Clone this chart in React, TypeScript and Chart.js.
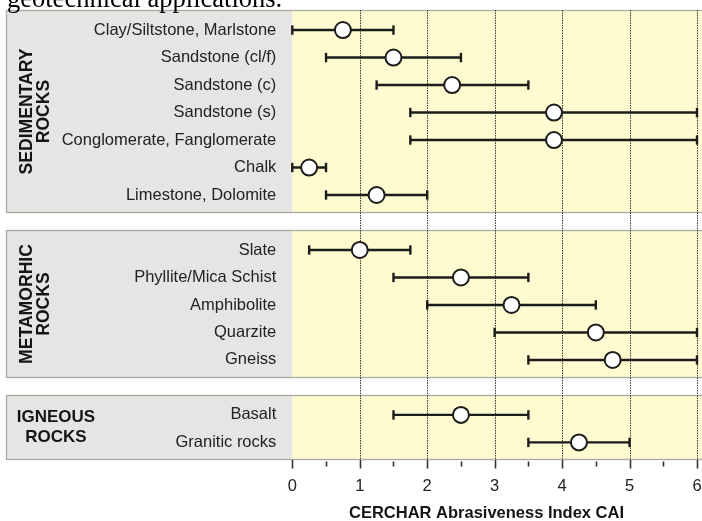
import React, { useEffect, useRef } from 'react';
import { Chart, registerables } from 'chart.js';

Chart.register(...registerables);

// ---- data ----
const rockTypes = [
  'Clay/Siltstone, Marlstone',
  'Sandstone (cl/f)',
  'Sandstone (c)',
  'Sandstone (s)',
  'Conglomerate, Fanglomerate',
  'Chalk',
  'Limestone, Dolomite',
  'Slate',
  'Phyllite/Mica Schist',
  'Amphibolite',
  'Quarzite',
  'Gneiss',
  'Basalt',
  'Granitic rocks',
];
const rowPositions = [0, 1, 2, 3, 4, 5, 6, 8, 9, 10, 11, 12, 14, 15];
const caiMin = [0, 0.5, 1.25, 1.75, 1.75, 0, 0.5, 0.25, 1.5, 2.0, 3.0, 3.5, 1.5, 3.5];
const caiMean = [0.75, 1.5, 2.37, 3.88, 3.88, 0.25, 1.25, 1.0, 2.5, 3.25, 4.5, 4.75, 2.5, 4.25];
const caiMax = [1.5, 2.5, 3.5, 6, 6, 0.5, 2.0, 1.75, 3.5, 4.5, 6, 6, 3.5, 5.0];

const groupNames = [
  ['SEDIMENTARY', 'ROCKS'],
  ['METAMORHIC', 'ROCKS'],
  ['IGNEOUS', 'ROCKS'],
];
const groupFirstRow = [0, 8, 14];
const groupLastRow = [6, 12, 15];
const groupRotated = [true, true, false];

const xTickValues = [0, 1, 2, 3, 4, 5, 6];
const xMinorTicks = [0.5, 1.5, 2.5, 3.5, 4.5, 5.5];
const xTitle = 'CERCHAR Abrasiveness Index CAI';
const pageText = 'geotechnical applications.';

const SANS = '"Liberation Sans", Arial, sans-serif';
const INK = '#1c1c1c';

const zeroPadding = (s: any) => {
  s.paddingTop = 0;
  s.paddingBottom = 0;
  s.paddingLeft = 0;
  s.paddingRight = 0;
};

const decorPlugin = {
  id: 'decor',
  beforeDraw(chart: any) {
    const { ctx, scales } = chart;
    const x = scales.x;
    const y = scales.y;
    const panelLeft = 6;
    const right = chart.width;
    const x0 = x.getPixelForValue(0);
    ctx.save();
    ctx.fillStyle = '#ffffff';
    ctx.fillRect(0, 0, chart.width, chart.height);
    groupFirstRow.forEach((first, g) => {
      const top = Math.round(y.getPixelForValue(first - 0.72));
      const bottom = Math.round(y.getPixelForValue(groupLastRow[g] + 0.65));
      ctx.fillStyle = '#e6e5e3';
      ctx.fillRect(panelLeft, top, x0 - panelLeft, bottom - top);
      ctx.fillStyle = '#fffbd0';
      ctx.fillRect(x0, top, right - x0, bottom - top);
      ctx.strokeStyle = '#a9a9a2';
      ctx.lineWidth = 1.3;
      ctx.strokeRect(panelLeft + 0.5, top + 0.5, right - panelLeft + 4, bottom - top - 1);

      // group label
      ctx.fillStyle = '#151515';
      ctx.textAlign = 'center';
      ctx.textBaseline = 'middle';
      const cy = (top + bottom) / 2;
      const lines = groupNames[g];
      if (groupRotated[g]) {
        ctx.font = `bold 17.6px ${SANS}`;
        ctx.save();
        ctx.translate(35.5, cy);
        ctx.rotate(-Math.PI / 2);
        lines.forEach((t, k) => ctx.fillText(t, 0, (k - (lines.length - 1) / 2) * 16.5));
        ctx.restore();
      } else {
        ctx.font = `bold 17px ${SANS}`;
        lines.forEach((t, k) => ctx.fillText(t, 56, cy + (k - (lines.length - 1) / 2) * 20));
      }
    });
    ctx.restore();
  },
  beforeDatasetsDraw(chart: any) {
    const { ctx, chartArea, scales } = chart;
    const x = scales.x;
    ctx.save();
    // dotted grid lines
    ctx.strokeStyle = '#3a3a3a';
    ctx.lineWidth = 1;
    ctx.setLineDash([1.5, 1]);
    xTickValues.forEach((v) => {
      if (v === 0) return;
      const px = Math.round(x.getPixelForValue(v)) + 0.5;
      ctx.beginPath();
      ctx.moveTo(px, chartArea.top);
      ctx.lineTo(px, chartArea.bottom);
      ctx.stroke();
    });
    ctx.setLineDash([]);
    // tick marks
    ctx.strokeStyle = '#333';
    ctx.lineWidth = 1.6;
    xTickValues.forEach((v) => {
      const px = Math.round(x.getPixelForValue(v)) + 0.5;
      ctx.beginPath();
      ctx.moveTo(px, chartArea.bottom);
      ctx.lineTo(px, chartArea.bottom + 8.5);
      ctx.stroke();
    });
    xMinorTicks.forEach((v) => {
      const px = Math.round(x.getPixelForValue(v)) + 0.5;
      ctx.beginPath();
      ctx.moveTo(px, chartArea.bottom + 1.5);
      ctx.lineTo(px, chartArea.bottom + 6.5);
      ctx.stroke();
    });
    ctx.restore();
  },
  afterDraw(chart: any) {
    const { ctx } = chart;
    ctx.save();
    ctx.fillStyle = '#151515';
    ctx.font = `bold 16.5px ${SANS}`;
    ctx.textAlign = 'center';
    ctx.textBaseline = 'middle';
    ctx.fillText(xTitle, 486.5, 513);
    ctx.fillStyle = '#000';
    ctx.font = '26.5px "Liberation Serif", "Times New Roman", serif';
    ctx.textAlign = 'left';
    ctx.textBaseline = 'alphabetic';
    ctx.fillText(pageText, 7, 6.5);
    ctx.restore();
  },
};

export default function App() {
  const ref = useRef<HTMLCanvasElement>(null);
  useEffect(() => {
    document.body.style.margin = '0';
    const rangeSets = rockTypes.map((name, i) => ({
      label: name,
      data: [
        { x: caiMin[i], y: rowPositions[i] },
        { x: caiMax[i], y: rowPositions[i] },
      ],
      showLine: true,
      borderColor: INK,
      borderWidth: 2.4,
      pointStyle: 'line',
      pointRadius: 4.7,
      pointRotation: 90,
      pointBorderWidth: 2.4,
      pointBorderColor: INK,
      pointBackgroundColor: INK,
      clip: false,
      order: 2,
    }));
    const meanSet = {
      label: 'Mean CAI',
      data: rockTypes.map((_, i) => ({ x: caiMean[i], y: rowPositions[i] })),
      showLine: false,
      pointStyle: 'circle',
      pointRadius: 8,
      pointBackgroundColor: '#ffffff',
      pointBorderColor: INK,
      pointBorderWidth: 2,
      clip: false,
      order: 1,
    };
    const chart = new Chart(ref.current as HTMLCanvasElement, {
      type: 'scatter',
      data: { datasets: [meanSet, ...rangeSets] as any },
      options: {
        responsive: false,
        animation: false,
        events: [],
        layout: { autoPadding: false, padding: { top: 10, right: 5, left: 0, bottom: 0 } },
        plugins: { legend: { display: false }, tooltip: { enabled: false }, title: { display: false } },
        scales: {
          x: {
            type: 'linear',
            min: 0,
            max: 6,
            grid: { display: false },
            border: { display: false },
            afterBuildTicks: (s: any) => {
              s.ticks = xTickValues.map((v) => ({ value: v }));
            },
            ticks: {
              autoSkip: false,
              maxRotation: 0,
              padding: 9,
              color: '#222',
              font: { family: SANS, size: 16.5 },
              callback: (v: any) => String(v),
            },
            afterFit: (s: any) => {
              s.height = 61;
              zeroPadding(s);
            },
          },
          y: {
            type: 'linear',
            reverse: true,
            min: -0.73,
            max: 15.64,
            grid: { display: false },
            border: { display: false },
            afterBuildTicks: (s: any) => {
              s.ticks = rowPositions.map((v) => ({ value: v }));
            },
            ticks: {
              autoSkip: false,
              padding: 8,
              color: '#222',
              font: { family: SANS, size: 16.5 },
              callback: (v: any) => {
                const k = rowPositions.indexOf(Number(v));
                return k >= 0 ? rockTypes[k] : '';
              },
            },
            afterFit: (s: any) => {
              s.width = 292.3;
              zeroPadding(s);
            },
          },
        },
      } as any,
      plugins: [decorPlugin],
    });
    return () => chart.destroy();
  }, []);
  return (
    <div style={{ width: 702, height: 521 }}>
      <canvas ref={ref} width={702} height={521} style={{ display: 'block' }} />
    </div>
  );
}
